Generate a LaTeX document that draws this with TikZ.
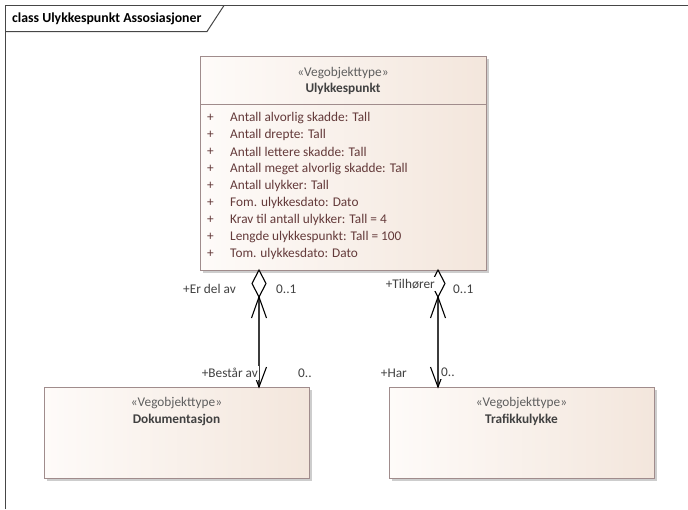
\documentclass[tikz,border=0pt]{standalone}
\usepackage{fontspec}
\setmainfont{Carlito}
\usetikzlibrary{calc}
\definecolor{frameC}{RGB}{70,70,70}
\definecolor{boxC}{RGB}{160,140,140}
\definecolor{fillL}{RGB}{254,251,249}
\definecolor{fillR}{RGB}{243,230,220}
\definecolor{attrC}{RGB}{100,58,58}
\definecolor{txtC}{RGB}{65,65,65}
\definecolor{stereoC}{RGB}{95,95,95}
\definecolor{lineC}{RGB}{60,60,60}
\definecolor{shadC}{RGB}{205,205,205}
\begin{document}
\begin{tikzpicture}[x=1pt,y=-1pt,
  classbox/.style={draw=boxC,line width=0.9pt,left color=fillL,right color=fillR,shading angle=90,
     rectangle,inner sep=0pt,anchor=north west},
  stereo/.style={font=\fontsize{13.3}{15}\selectfont,text=stereoC,inner sep=0pt},
  cname/.style={font=\fontsize{13.3}{15}\selectfont\bfseries,text=txtC,inner sep=0pt},
  attr/.style={font=\fontsize{13.3}{15}\selectfont,text=attrC,inner sep=0pt,anchor=west},
  lbl/.style={font=\fontsize{13.3}{15}\selectfont,text=txtC,inner xsep=1pt,inner ysep=2.5pt,fill=white},
  conn/.style={draw=lineC,line width=1.1pt},
  tip/.style={draw=black,line width=1.1pt}]
\useasboundingbox (0,0) rectangle (688,509);
% frame
\draw[frameC,line width=1.4pt] (5.5,509) -- (5.5,5.5) -- (688,5.5);
\draw[frameC,line width=1pt] (5.5,31.5) -- (207,31.5) -- (224,5.5);
\node[font=\fontsize{13.8}{16}\selectfont\bfseries,text=black,anchor=west,inner sep=0pt] (title) at (12,18.5) {class Ulykkespunkt Assosiasjoner};
% shadows
\fill[shadC] (203,59) rectangle (489,273);
\fill[shadC] (47,390) rectangle (312,481);
\fill[shadC] (392,390) rectangle (657,481);
% classes
\node[classbox,minimum width=286pt,minimum height=214pt] (ulyk) at (200,56) {};
\draw[boxC,line width=0.9pt] (200,104) -- (486,104);
\node[stereo] (ulykS) at (343,73) {«Vegobjekttype»};
\node[cname] (ulykN) at (343,89) {Ulykkespunkt};
\foreach \i/\t in {0/{Antall alvorlig skadde: Tall},1/{Antall drepte: Tall},2/{Antall lettere skadde: Tall},
   3/{Antall meget alvorlig skadde: Tall},4/{Antall ulykker: Tall},5/{Fom. ulykkesdato: Dato},
   6/{Krav til antall ulykker: Tall = 4},7/{Lengde ulykkespunkt: Tall = 100},8/{Tom. ulykkesdato: Dato}}{
  \node[attr] (p\i) at (207,118+17*\i) {+};
  \node[attr] (a\i) at (230,118+17*\i) {\t};
}
\node[classbox,minimum width=265pt,minimum height=91pt] (dok) at (44,387) {};
\node[stereo] (dokS) at (176.5,403) {«Vegobjekttype»};
\node[cname] (dokN) at (176.5,420) {Dokumentasjon};
\node[classbox,minimum width=265pt,minimum height=91pt] (traf) at (389,387) {};
\node[stereo] (trafS) at (521.5,403) {«Vegobjekttype»};
\node[cname] (trafN) at (521.5,420) {Trafikkulykke};
% connector endpoints
\coordinate (l1) at (259,270);
\coordinate (l2) at (259,297);
\coordinate (l3) at (259,387);
\coordinate (r1) at (438,270);
\coordinate (r2) at (438,297);
\coordinate (r3) at (438,387);
% left connector
\draw[conn] (l2) -- (l3);
\draw[tip,fill=white] (l1) -- ++(7,13.5) -- (l2) -- ++(-7,-13.5) -- cycle;
\draw[tip] ($(l2)+(-7.5,21)$) -- (l2) -- ++(7.5,21);
\draw[tip] ($(l3)+(-7.5,-20)$) -- (l3) -- ++(7.5,-20);
% right connector
\draw[conn] (r2) -- (r3);
\draw[tip,fill=white] (r1) -- ++(7,13.5) -- (r2) -- ++(-7,-13.5) -- cycle;
\draw[tip] ($(r2)+(-7.5,21)$) -- (r2) -- ++(7.5,21);
\draw[tip] ($(r3)+(-7.5,-20)$) -- (r3) -- ++(7.5,-20);
% labels
\node[lbl,anchor=east] (erdel) at (237,289) {+Er del av};
\node[lbl,anchor=west] (l01) at (275,289) {0..1};
\node[lbl,anchor=east] (best) at (259,373) {+Består av};
\node[lbl,anchor=west] (l0) at (297,373) {0..};
\node[lbl,anchor=east] (tilh) at (436,284) {+Tilhører};
\node[lbl,anchor=west] (r01) at (452,289) {0..1};
\node[lbl,anchor=east] (har) at (408,373) {+Har};
\node[lbl,anchor=west] (r0) at (440,372) {0..};
\end{tikzpicture}
\end{document}
